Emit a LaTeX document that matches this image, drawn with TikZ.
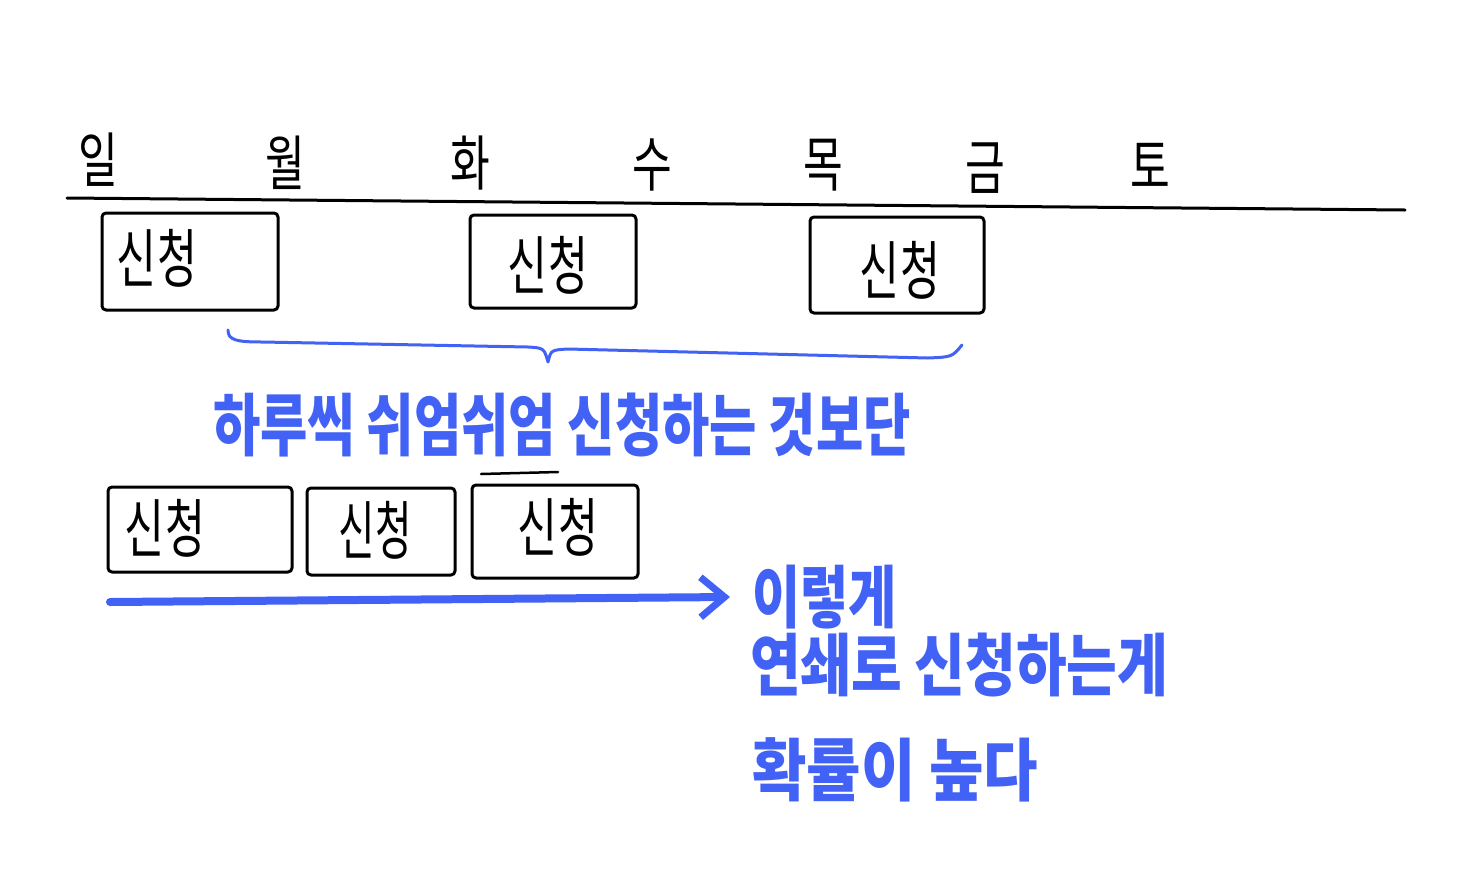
\documentclass[tikz,border=0pt]{standalone}
\usepackage{fontspec}
\newfontfamily\kr{Noto Sans CJK KR}
\usetikzlibrary{arrows.meta}
\definecolor{pen}{RGB}{66,98,245}
\tikzset{
  ink/.style={line width=3pt, line cap=round, line join=round},
  sbox/.style={draw, ink, rounded corners=4pt, inner sep=0pt},
  day/.style={inner sep=0pt, font=\kr\fontsize{60}{62}\selectfont},
  boxtext/.style={inner sep=0pt, font=\kr\fontsize{64}{66}\selectfont},
  bluetext/.style={inner sep=0pt, text=pen, font=\kr\bfseries\fontsize{68}{70}\selectfont},
}
\newcommand{\nar}[2]{\scalebox{#1}[1]{#2}}
\begin{document}
\begin{tikzpicture}[x=1pt,y=-1pt]
\useasboundingbox (0,0) rectangle (1460,879);
\fill[white] (0,0) rectangle (1460,879);
% timeline
\coordinate (tl) at (67,198);
\coordinate (tr) at (1405,210);
\draw[ink] (tl) -- (tr);
% days
\node[day] (d1) at (98,160) {\nar{0.72}{일}};
\node[day] (d2) at (285,163) {\nar{0.72}{월}};
\node[day] (d3) at (470,163) {\nar{0.72}{화}};
\node[day] (d4) at (652,165) {\nar{0.72}{수}};
\node[day] (d5) at (823,165) {\nar{0.72}{목}};
\node[day] (d6) at (985,168) {\nar{0.72}{금}};
\node[day] (d7) at (1150,166) {\nar{0.72}{토}};
% top boxes
\node[sbox, minimum width=176pt, minimum height=97pt] (b1) at (190,261.5) {};
\node[boxtext] (t1) at (157,258) {\nar{0.68}{신청}};
\node[sbox, minimum width=166pt, minimum height=93pt] (b2) at (553,261.5) {};
\node[boxtext] (t2) at (548,265) {\nar{0.68}{신청}};
\node[sbox, minimum width=174pt, minimum height=96pt] (b3) at (897,265) {};
\node[boxtext] (t3) at (900,270) {\nar{0.68}{신청}};
% brace
\coordinate (brl) at (228,330);
\coordinate (brm) at (548,362);
\coordinate (brr) at (962,345);
\draw[ink, pen] (brl) .. controls (228,340) and (236,342) .. (262,342) -- (528,347)
  .. controls (544,348) .. (brm) .. controls (551,350) .. (568,349) -- (928,358)
  .. controls (952,357) .. (brr);
\node[bluetext, anchor=west] (m1) at (213,425) {\nar{0.756}{하루씩 쉬엄쉬엄 신청하는 것보단}};
% lower boxes
\node[sbox, minimum width=184pt, minimum height=85pt] (b4) at (200,529.5) {};
\node[boxtext] (t4) at (165,528) {\nar{0.68}{신청}};
\node[sbox, minimum width=148pt, minimum height=87pt] (b5) at (381,531.5) {};
\node[boxtext] (t5) at (375,530) {\nar{0.62}{신청}};
\node[sbox, minimum width=166pt, minimum height=93pt] (b6) at (555,531.5) {};
\node[boxtext] (t6) at (558,527) {\nar{0.68}{신청}};
\coordinate (s1) at (481,474);
\coordinate (s2) at (558,472);
\draw[ink, line width=2.5pt] (s1) -- (s2);
% arrow
\coordinate (a1) at (110,602);
\coordinate (a2) at (730,597);
\draw[pen, line width=8pt, line cap=round, -{Straight Barb[length=24pt,width=40pt,line width=7pt]}] (a1) -- (a2);
\node[bluetext, anchor=west] (c1) at (752,597) {\nar{0.77}{이렇게}};
\node[bluetext, anchor=west] (c2) at (750,665) {\nar{0.81}{연쇄로 신청하는게}};
\node[bluetext, anchor=west] (c3) at (752,770) {\nar{0.87}{확률이 높다}};
\end{tikzpicture}
\end{document}
